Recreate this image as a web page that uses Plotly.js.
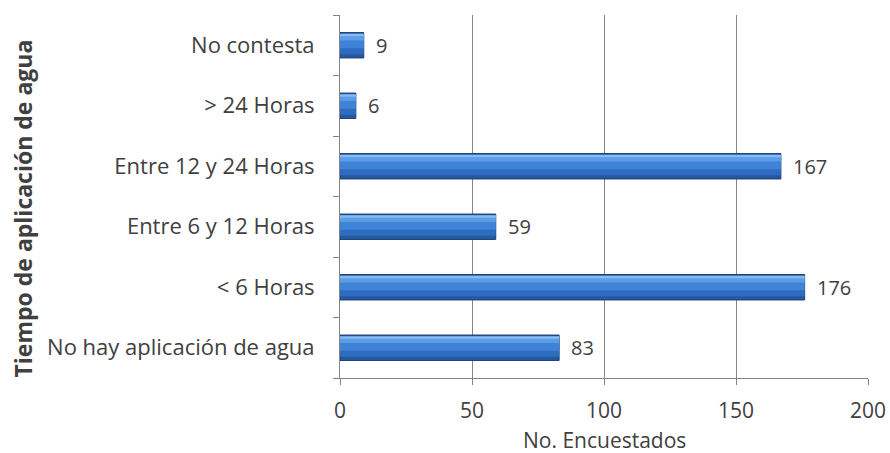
<!DOCTYPE html>
<html>
<head>
<meta charset="utf-8">
<script src="https://cdn.plot.ly/plotly-3.0.1.min.js"></script>
<style>html,body{margin:0;padding:0;background:#fff;}#chart{width:890px;height:453px;}</style>
</head>
<body>
<div id="chart"></div>
<script>
// Data (bottom to top, as drawn)
const categories = [
  "No hay aplicación de agua",
  "< 6 Horas",
  "Entre 6 y 12 Horas",
  "Entre 12 y 24 Horas",
  "> 24 Horas",
  "No contesta"
];
const values = [83, 176, 59, 167, 6, 9];
const xTickVals = [0, 50, 100, 150, 200];
const xTickText = ["0", "50", "100", "150", "200"];
const xTitle = "No. Encuestados";
const yTitle = "Tiempo de aplicación de agua";

const FONT = "Open Sans, Lato, sans-serif";
const TXT = "#404040";

function band(color, offset, width, line) {
  return {
    type: "bar", orientation: "h",
    x: values, y: categories,
    offset: offset, width: width,
    marker: { color: color, line: line || { width: 0 } },
    hoverinfo: "skip", showlegend: false
  };
}

const traces = [
  band("#2459a0", -0.21, 0.42, { color: "#1b3f73", width: 1 }),
  band("#2e6cbf", -0.15, 0.34),
  band("#3f83d6", -0.05, 0.22),
  band("#5d9ce6", 0.08, 0.09),
  band("#86bbf2", 0.15, 0.04)
];

const annotations = values.map((v, i) => ({
  x: v, y: categories[i], xref: "x", yref: "y",
  text: String(v), showarrow: false,
  xanchor: "left", xshift: 10,
  font: { family: FONT, size: 20, color: TXT }
}));

// axis titles
annotations.push({
  xref: "paper", yref: "paper", x: 0.5, y: 0,
  xanchor: "center", yanchor: "top", yshift: -46,
  text: xTitle, showarrow: false,
  font: { family: FONT, size: 21, color: TXT }
});
annotations.push({
  xref: "paper", yref: "paper", x: 0, y: 0.5,
  xanchor: "center", yanchor: "middle", xshift: -318, yshift: -12,
  textangle: -90,
  text: "<b>" + yTitle + "</b>", showarrow: false,
  font: { family: FONT, size: 23, color: TXT }
});

const layout = {
  width: 890, height: 453,
  margin: { l: 340, r: 22, t: 15, b: 75 },
  paper_bgcolor: "#ffffff", plot_bgcolor: "#ffffff",
  barmode: "overlay",
  showlegend: false,
  font: { family: FONT, size: 20, color: TXT },
  xaxis: {
    range: [0, 200],
    tickvals: xTickVals, ticktext: xTickText,
    showgrid: true, gridcolor: "#858585", gridwidth: 1,
    zeroline: false,
    showline: true, linecolor: "#858585", linewidth: 1,
    ticks: "outside", ticklen: 6, tickcolor: "#858585",
    ticklabelstandoff: 8,
    tickfont: { family: FONT, size: 21, color: TXT },
    fixedrange: true
  },
  yaxis: {
    type: "category",
    categoryorder: "array", categoryarray: categories,
    range: [-0.5, 5.5],
    showgrid: false, zeroline: false,
    showline: true, linecolor: "#858585", linewidth: 1,
    ticks: "outside", ticklen: 6, tickcolor: "#858585",
    tickson: "boundaries",
    ticklabelstandoff: 20,
    tickfont: { family: FONT, size: 22, color: TXT },
    fixedrange: true
  },
  annotations: annotations
};

Plotly.newPlot("chart", traces, layout, { staticPlot: true, displayModeBar: false });
</script>
</body>
</html>
